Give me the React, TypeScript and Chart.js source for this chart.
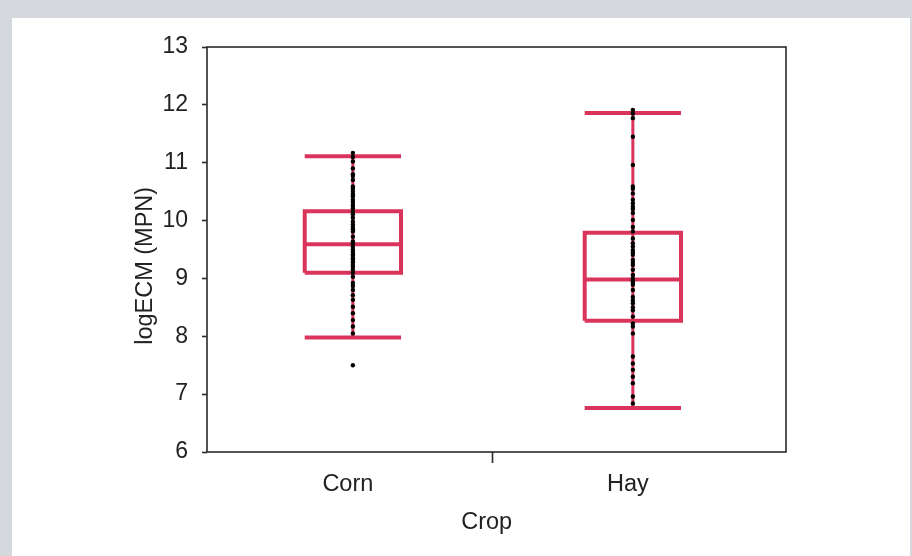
import React, { useEffect, useRef } from 'react';
import { Chart, registerables } from 'chart.js';

Chart.register(...registerables);

// ---- data ----
const categories = ['Corn', 'Hay'];
const categoryX = [1, 2];
const whiskerLow = [7.98, 6.76];
const q1 = [9.1, 8.27];
const median = [9.59, 8.98];
const q3 = [10.16, 9.79];
const whiskerHigh = [11.11, 11.86];

const cornValues = [
  11.17, 11.1, 11.02, 10.9, 10.8, 10.77, 10.7, 10.59, 10.55, 10.5, 10.45, 10.42,
  10.36, 10.32, 10.27, 10.25, 10.21, 10.15, 10.11, 10.05, 9.98, 9.93, 9.89, 9.85,
  9.81, 9.72, 9.64, 9.6, 9.55, 9.5, 9.46, 9.42, 9.39, 9.35, 9.32, 9.28, 9.23, 9.2,
  9.15, 9.1, 9.03, 8.92, 8.87, 8.8, 8.71, 8.63, 8.51, 8.4, 8.28, 8.17, 8.05, 7.5,
];
const hayValues = [
  11.91, 11.85, 11.77, 11.45, 10.96, 10.59, 10.55, 10.47, 10.36, 10.3, 10.24, 10.2,
  10.13, 10.01, 9.89, 9.81, 9.69, 9.61, 9.55, 9.49, 9.45, 9.41, 9.32, 9.27, 9.23,
  9.15, 9.06, 9.0, 8.97, 8.93, 8.89, 8.8, 8.68, 8.62, 8.57, 8.5, 8.45, 8.34, 8.22,
  8.17, 8.05, 7.65, 7.53, 7.42, 7.3, 7.19, 6.96, 6.84,
];
const seriesValues = [cornValues, hayValues];

const yMin = 6;
const yMax = 13;
const xTickValues = [1, 1.5, 2];
const xTitle = 'Crop';
const yTitle = 'logECM (MPN)';

// ---- styles ----
const BOX_COLOR = 'rgb(218, 52, 92)';
const TEXT_COLOR = '#222';
const FRAME_COLOR = '#2a2a2a';
const BOX_HALF = 0.172;
const FONT = { family: '"Liberation Sans", Arial, sans-serif', size: 23.5 };
const TICK_FONT = { family: '"Liberation Sans", Arial, sans-serif', size: 23 };

const framePlugin = {
  id: 'frame',
  beforeDatasetsDraw(chart: any) {
    const { ctx, chartArea } = chart;
    ctx.save();
    ctx.strokeStyle = FRAME_COLOR;
    ctx.lineWidth = 1.6;
    ctx.strokeRect(chartArea.left, chartArea.top, chartArea.right - chartArea.left, chartArea.bottom - chartArea.top);
    ctx.restore();
  },
};

function lineDs(points: { x: number; y: number }[], width: number) {
  return {
    type: 'scatter' as const,
    data: points,
    showLine: true,
    borderColor: BOX_COLOR,
    backgroundColor: BOX_COLOR,
    borderWidth: width,
    pointRadius: 0,
    borderCapStyle: 'butt',
    borderJoinStyle: 'miter',
    order: 1,
  };
}

export default function App() {
  const canvasRef = useRef<HTMLCanvasElement | null>(null);

  useEffect(() => {
    document.body.style.margin = '0';
    const canvas = canvasRef.current;
    if (!canvas) return;

    const datasets: any[] = [];
    datasets.push({
      type: 'scatter',
      data: seriesValues.flatMap((vals, i) => vals.map((v) => ({ x: categoryX[i], y: v }))),
      pointRadius: 2.2,
      pointBackgroundColor: '#000',
      pointBorderWidth: 0,
      order: 0,
    });
    categoryX.forEach((cx, i) => {
      datasets.push(lineDs([{ x: cx, y: whiskerLow[i] }, { x: cx, y: whiskerHigh[i] }], 3));
      datasets.push(lineDs([{ x: cx - BOX_HALF, y: whiskerHigh[i] }, { x: cx + BOX_HALF, y: whiskerHigh[i] }], 4));
      datasets.push(lineDs([{ x: cx - BOX_HALF, y: whiskerLow[i] }, { x: cx + BOX_HALF, y: whiskerLow[i] }], 4));
      datasets.push(
        lineDs(
          [
            { x: cx - BOX_HALF, y: q1[i] },
            { x: cx + BOX_HALF, y: q1[i] },
            { x: cx + BOX_HALF, y: q3[i] },
            { x: cx - BOX_HALF, y: q3[i] },
            { x: cx - BOX_HALF, y: q1[i] },
          ],
          4
        )
      );
      datasets.push(lineDs([{ x: cx - BOX_HALF, y: median[i] }, { x: cx + BOX_HALF, y: median[i] }], 4));
    });

    const chart = new Chart(canvas, {
      type: 'scatter',
      data: { datasets },
      plugins: [framePlugin],
      options: {
        responsive: false,
        animation: false,
        devicePixelRatio: 1,
        layout: { padding: { top: 47, right: 126, left: 0, bottom: 0 } },
        plugins: { legend: { display: false }, tooltip: { enabled: false } },
        scales: {
          x: {
            type: 'linear',
            min: 0.479,
            max: 2.547,
            afterBuildTicks: (s: any) => {
              s.ticks = xTickValues.map((v) => ({ value: v }));
            },
            afterFit: (s: any) => {
              s.height = 104;
            },
            ticks: {
              autoSkip: false,
              maxRotation: 0,
              font: FONT,
              color: TEXT_COLOR,
              padding: 7,
              labelOffset: -5,
              callback: (v: any) => {
                const i = categoryX.indexOf(Number(v));
                return i >= 0 ? categories[i] : '';
              },
            },
            grid: {
              drawOnChartArea: false,
              tickLength: 11,
              tickWidth: 1.6,
              tickColor: (ctx: any) => (ctx.tick && ctx.tick.value === 1.5 ? FRAME_COLOR : 'rgba(0,0,0,0)'),
            },
            border: { display: false },
            title: { display: true, text: xTitle + '\u00a0\u00a0\u00a0', font: FONT, color: TEXT_COLOR, padding: { top: 0, bottom: 19 } },
          },
          y: {
            type: 'linear',
            min: yMin,
            max: yMax,
            afterFit: (s: any) => {
              s.width = 207;
            },
            ticks: { stepSize: 1, font: TICK_FONT, color: TEXT_COLOR, padding: 14 },
            grid: { drawOnChartArea: false, tickLength: 5, tickWidth: 1.6, tickColor: FRAME_COLOR },
            border: { display: false },
            title: {
              display: true,
              text: yTitle + '\u00a0\u00a0\u00a0\u00a0\u00a0',
              font: FONT,
              color: TEXT_COLOR,
              padding: { top: 131, bottom: 0 },
            },
          },
        },
      } as any,
    });
    return () => chart.destroy();
  }, []);

  return (
    <div style={{ position: 'fixed', left: 0, top: 0, width: 912, height: 556, background: '#d5d9de', overflow: 'hidden' }}>
      <div style={{ position: 'absolute', left: 12, top: 18, width: 898, height: 538, background: '#fff' }} />
      <canvas ref={canvasRef} width={912} height={556} style={{ position: 'absolute', left: 0, top: 0, width: 912, height: 556 }} />
    </div>
  );
}
